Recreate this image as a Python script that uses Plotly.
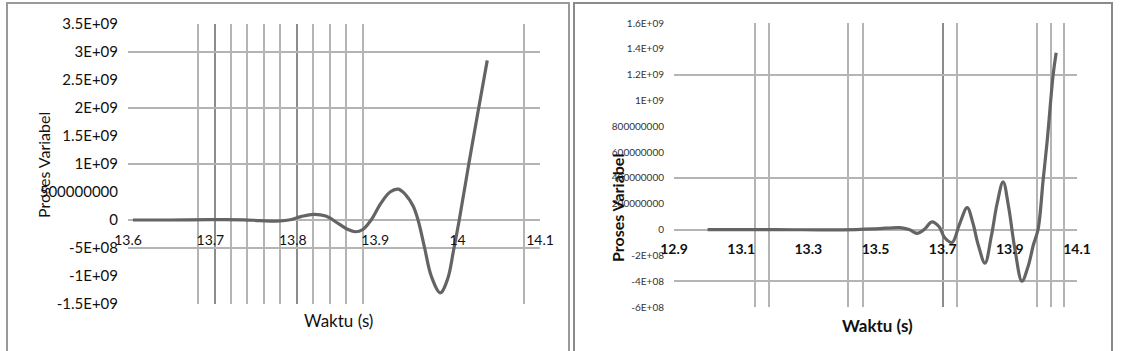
import plotly.graph_objects as go

# ---------------- data ----------------
# Left chart
x_left = [13.606, 13.65, 13.70, 13.74, 13.76, 13.78, 13.795, 13.81, 13.825, 13.84,
          13.855, 13.867, 13.876, 13.885, 13.895, 13.907, 13.918, 13.928, 13.937, 13.946,
          13.952, 13.96, 13.968, 13.979, 13.988, 13.995, 14.002, 14.013, 14.025, 14.036]
y_left = [0.0, 0.0, 0.005e9, 0.003e9, -0.01e9, -0.02e9, 0.0, 0.06e9, 0.1e9, 0.07e9,
          -0.06e9, -0.17e9, -0.21e9, -0.17e9, 0.0, 0.3e9, 0.5e9, 0.55e9, 0.45e9, 0.25e9,
          0.0, -0.5e9, -1.0e9, -1.3e9, -1.05e9, -0.55e9, 0.0, 0.95e9, 1.95e9, 2.85e9]
left_ytick_vals = [3.5e9, 3e9, 2.5e9, 2e9, 1.5e9, 1e9, 5e8, 0, -5e8, -1e9, -1.5e9]
left_ytick_text = ["3.5E+09", "3E+09", "2.5E+09", "2E+09", "1.5E+09", "1E+09",
                   "500000000", "0", "-5E+08", "-1E+09", "-1.5E+09"]
left_xtick_vals = [13.6, 13.7, 13.8, 13.9, 14.0, 14.1]
left_xtick_text = ["13.6", "13.7", "13.8", "13.9", "14", "14.1"]
left_hgrid = [3.5e9, 3e9, 2e9, 1e9, 0, -5e8, -1.5e9]
left_vgrid_major = [13.705, 13.805, 14.1]
left_vgrid_minor = [13.685, 13.725, 13.745, 13.765, 13.785, 13.825, 13.845, 13.865,
                    13.885, 14.08]

# Right chart
x_right = [13.0, 13.2, 13.4, 13.5, 13.573, 13.6, 13.624, 13.645, 13.668, 13.69,
           13.705, 13.728, 13.75, 13.773, 13.79, 13.806, 13.826, 13.845, 13.862, 13.88,
           13.896, 13.915, 13.936, 13.955, 13.97, 13.984, 13.999, 14.011, 14.029, 14.038]
y_right = [0.0, 0.0, -0.003e9, 0.005e9, 0.015e9, 0.0, -0.03e9, 0.0, 0.06e9, 0.02e9,
           -0.06e9, -0.1e9, 0.04e9, 0.17e9, 0.05e9, -0.12e9, -0.26e9, -0.05e9, 0.2e9, 0.37e9,
           0.18e9, -0.15e9, -0.40e9, -0.28e9, -0.12e9, 0.0, 0.38e9, 0.68e9, 1.2e9, 1.37e9]
right_ytick_vals = [1.6e9, 1.4e9, 1.2e9, 1e9, 8e8, 6e8, 4e8, 2e8, 0, -2e8, -4e8, -6e8]
right_ytick_text = ["1.6E+09", "1.4E+09", "1.2E+09", "1E+09", "800000000", "600000000",
                    "400000000", "200000000", "0", "-2E+08", "-4E+08", "-6E+08"]
right_xtick_vals = [12.9, 13.1, 13.3, 13.5, 13.7, 13.9, 14.1]
right_xtick_text = ["12.9", "13.1", "13.3", "13.5", "13.7", "13.9", "14.1"]
right_hgrid = [1.6e9, 1.2e9, 4e8, 0, -4e8]
right_vgrid_major = [12.9, 13.7]
right_vgrid_minor = [13.141, 13.183, 13.418, 13.463, 13.743, 13.981, 14.023, 14.061]

# ---------------- figure ----------------
W, H = 1126, 351
FONT = "Lato"
LINE = "#646464"
GRID = "#b4b4b4"
GRID_D = "#8c8c8c"
TXT = "#111111"


def px_x(p):
    return p / W


def px_y(p):
    return 1 - p / H


fig = go.Figure()
line_style = dict(color=LINE, width=3.2, shape="spline", smoothing=1.0)
fig.add_trace(go.Scatter(x=x_left, y=y_left, mode="lines", xaxis="x", yaxis="y",
                         line=line_style, showlegend=False))
fig.add_trace(go.Scatter(x=x_right, y=y_right, mode="lines", xaxis="x3", yaxis="y3",
                         line=line_style, showlegend=False))
# invisible carriers so that the overlay axes (grid / zero-line labels) are drawn
fig.add_trace(go.Scatter(x=x_left, y=y_left, mode="lines", xaxis="x2", yaxis="y2",
                         line=dict(color="rgba(0,0,0,0)"), hoverinfo="skip",
                         showlegend=False))
fig.add_trace(go.Scatter(x=x_right, y=y_right, mode="lines", xaxis="x4", yaxis="y4",
                         line=dict(color="rgba(0,0,0,0)"), hoverinfo="skip",
                         showlegend=False))

L_dom_x = [px_x(128), px_x(540)]
L_dom_y = [px_y(304), px_y(24)]
R_dom_x = [px_x(674), px_x(1077)]
R_dom_y = [px_y(307), px_y(23)]
L_xr = [13.6, 14.1]
L_yr = [-1.5e9, 3.5e9]
R_xr = [12.9, 14.1]
R_yr = [-6e8, 1.6e9]

L_zero = L_dom_y[0] + (0 - L_yr[0]) / (L_yr[1] - L_yr[0]) * (L_dom_y[1] - L_dom_y[0])
R_zero = R_dom_y[0] + (0 - R_yr[0]) / (R_yr[1] - R_yr[0]) * (R_dom_y[1] - R_dom_y[0])

fig.update_layout(
    width=W, height=H,
    margin=dict(l=0, r=0, t=0, b=0, autoexpand=False),
    paper_bgcolor="white", plot_bgcolor="rgba(0,0,0,0)",
    font=dict(family=FONT, color=TXT),
    # ---- left chart ----
    xaxis=dict(domain=L_dom_x, range=L_xr, anchor="y", showticklabels=False, ticks="",
               zeroline=False, showline=False, automargin=False,
               tickmode="array", tickvals=left_vgrid_major, showgrid=True,
               gridcolor=GRID_D, gridwidth=1.5,
               minor=dict(tickmode="array", tickvals=left_vgrid_minor, showgrid=True,
                          gridcolor=GRID, gridwidth=1.5, ticks="")),
    yaxis=dict(domain=L_dom_y, range=L_yr, anchor="x", tickmode="array",
               tickvals=left_ytick_vals, ticktext=left_ytick_text, showgrid=False,
               zeroline=False, showline=False, ticks="", ticklabelstandoff=9,
               automargin=False,
               tickfont=dict(family=FONT, size=15, color=TXT)),
    yaxis2=dict(overlaying="y", range=L_yr, anchor="x", tickmode="array",
                tickvals=left_hgrid, showticklabels=False, showgrid=True, automargin=False,
                gridcolor=GRID, gridwidth=1.5, zeroline=False, ticks=""),
    xaxis2=dict(overlaying="x", range=L_xr, anchor="free", position=L_zero,
                tickmode="array", tickvals=left_xtick_vals, ticktext=left_xtick_text,
                showgrid=False, zeroline=False, showline=False, ticks="", automargin=False,
                side="bottom", ticklabelstandoff=10,
                tickfont=dict(family=FONT, size=14, color=TXT)),
    # ---- right chart ----
    xaxis3=dict(domain=R_dom_x, range=R_xr, anchor="y3", showticklabels=False, ticks="",
                zeroline=False, showline=False, automargin=False,
                tickmode="array", tickvals=right_vgrid_major, showgrid=True,
                gridcolor=GRID_D, gridwidth=1.5,
                minor=dict(tickmode="array", tickvals=right_vgrid_minor, showgrid=True,
                           gridcolor=GRID, gridwidth=1.5, ticks="")),
    yaxis3=dict(domain=R_dom_y, range=R_yr, anchor="x3", tickmode="array",
                tickvals=right_ytick_vals, ticktext=right_ytick_text, showgrid=False,
                zeroline=False, showline=False, ticks="", ticklabelstandoff=9,
                automargin=False,
                tickfont=dict(family=FONT, size=10, color="#333333")),
    yaxis4=dict(overlaying="y3", range=R_yr, anchor="x3", tickmode="array",
                tickvals=right_hgrid, showticklabels=False, showgrid=True, automargin=False,
                gridcolor=GRID, gridwidth=1.5, zeroline=False, ticks=""),
    xaxis4=dict(overlaying="x3", range=R_xr, anchor="free", position=R_zero,
                tickmode="array", tickvals=right_xtick_vals, ticktext=right_xtick_text,
                showgrid=False, zeroline=False, showline=False, ticks="", automargin=False,
                side="bottom", ticklabelstandoff=9,
                tickfont=dict(family=FONT, size=14, color=TXT, weight="bold")),
)

# axis titles
fig.add_annotation(text="Proses Variabel", textangle=-90, xref="paper", yref="paper",
                   x=px_x(43), y=px_y(165), xanchor="center", yanchor="middle",
                   showarrow=False, font=dict(family=FONT, size=16, color=TXT))
fig.add_annotation(text="Waktu (s)", xref="paper", yref="paper",
                   x=px_x(338), y=px_y(320), xanchor="center", yanchor="middle",
                   showarrow=False, font=dict(family=FONT, size=17, color=TXT))
fig.add_annotation(text="Proses Variabel", textangle=-90, xref="paper", yref="paper",
                   x=px_x(617), y=px_y(208), xanchor="center", yanchor="middle",
                   showarrow=False, font=dict(family=FONT, size=16, color=TXT, weight="bold"))
fig.add_annotation(text="Waktu (s)", xref="paper", yref="paper",
                   x=px_x(877), y=px_y(325), xanchor="center", yanchor="middle",
                   showarrow=False, font=dict(family=FONT, size=17, color=TXT, weight="bold"))

# panel frames
fig.add_shape(type="rect", xref="paper", yref="paper",
              x0=px_x(7), x1=px_x(569), y0=-0.2, y1=px_y(3),
              line=dict(color="#9a9a9a", width=2), layer="below")
fig.add_shape(type="rect", xref="paper", yref="paper",
              x0=px_x(574), x1=px_x(1112), y0=-0.2, y1=px_y(3),
              line=dict(color="#8a8a8a", width=2), layer="below")

fig.write_html("out.html")
